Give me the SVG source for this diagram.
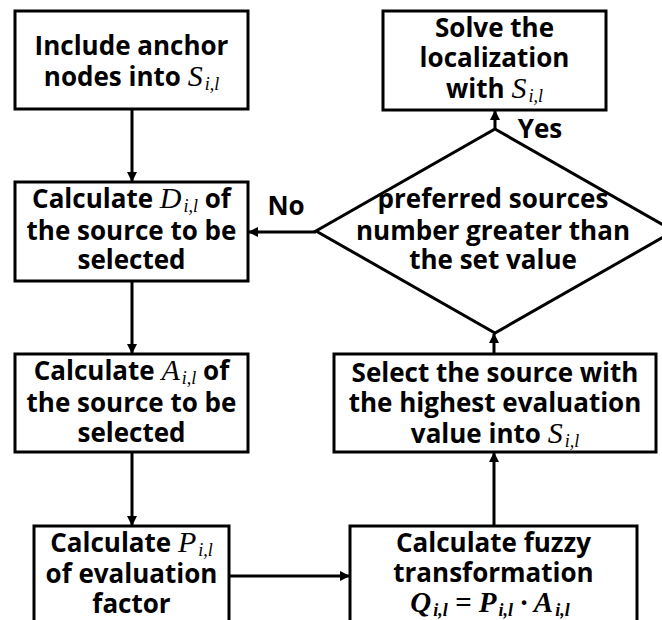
<svg xmlns="http://www.w3.org/2000/svg" width="662" height="620" viewBox="0 0 662 620">
<style>
.box{fill:#fff;stroke:#000;stroke-width:3}
.t{font-family:"Open Sans","Noto Sans",sans-serif;font-weight:700;font-size:26px;fill:#000;text-anchor:middle}
.m{font-family:"Liberation Serif","DejaVu Serif",serif;font-style:italic;font-weight:400;font-size:30px}
.mb{font-family:"Liberation Serif","DejaVu Serif",serif;font-style:italic;font-weight:700;font-size:29px}
.sub{font-size:18px}
.ln{fill:none;stroke:#000;stroke-width:3}
</style>
<defs>
<marker id="ah" markerUnits="userSpaceOnUse" markerWidth="10" markerHeight="10" refX="9" refY="5" orient="auto">
<path d="M0,0 L10,5 L0,10 z" fill="#000"/>
</marker>
</defs>
<g id="connectors">
<line class="ln" x1="132" y1="109" x2="132" y2="181" marker-end="url(#ah)"/>
<line class="ln" x1="132" y1="281" x2="132" y2="353" marker-end="url(#ah)"/>
<line class="ln" x1="132" y1="452" x2="132" y2="525" marker-end="url(#ah)"/>
<line class="ln" x1="229" y1="576" x2="349" y2="576" marker-end="url(#ah)"/>
<line class="ln" x1="494" y1="526" x2="494" y2="453" marker-end="url(#ah)"/>
<line class="ln" x1="494" y1="354" x2="494" y2="334" marker-end="url(#ah)"/>
<line class="ln" x1="495" y1="129" x2="495" y2="111" marker-end="url(#ah)"/>
<line class="ln" x1="316" y1="232" x2="249" y2="232" marker-end="url(#ah)"/>
<text class="t" x="286" y="215">No</text>
<text class="t" x="540" y="138">Yes</text>
</g>
<g id="n1">
<rect class="box" x="15" y="11" width="233" height="98"/>
<text class="t" x="131.5" y="55">Include anchor</text>
<text class="t" x="131.5" y="86">nodes into <tspan class="m">S</tspan><tspan class="m sub" dx="2" dy="4">i,l</tspan></text>
</g>
<g id="n2">
<rect class="box" x="15" y="182" width="233" height="99"/>
<text class="t" x="131.5" y="208">Calculate <tspan class="m">D</tspan><tspan class="m sub" dx="2" dy="4">i,l</tspan><tspan dy="-4">  of</tspan></text>
<text class="t" x="131.5" y="240">the source to be</text>
<text class="t" x="131.5" y="269">selected</text>
</g>
<g id="n3">
<rect class="box" x="15" y="354" width="233" height="98"/>
<text class="t" x="131.5" y="380">Calculate <tspan class="m">A</tspan><tspan class="m sub" dx="2" dy="4">i,l</tspan><tspan dy="-4"> of</tspan></text>
<text class="t" x="131.5" y="412">the source to be</text>
<text class="t" x="131.5" y="442">selected</text>
</g>
<g id="n4">
<rect class="box" x="34" y="526" width="195" height="120"/>
<text class="t" x="131.5" y="552">Calculate <tspan class="m">P</tspan><tspan class="m sub" dx="2" dy="4">i,l</tspan></text>
<text class="t" x="131.5" y="583">of evaluation</text>
<text class="t" x="131.5" y="613">factor</text>
</g>
<g id="n5">
<rect class="box" x="350" y="526" width="287" height="120"/>
<text class="t" x="493.5" y="552">Calculate fuzzy</text>
<text class="t" x="493.5" y="582">transformation</text>
<text class="t" x="490" y="612"><tspan class="mb">Q</tspan><tspan class="mb sub" dx="2" dy="4">i,l</tspan><tspan class="mb" dy="-4"> = P</tspan><tspan class="mb sub" dx="2" dy="4">i,l</tspan><tspan class="mb" dy="-4"> · A</tspan><tspan class="mb sub" dx="2" dy="4">i,l</tspan></text>
</g>
<g id="n6">
<rect class="box" x="334" y="354" width="322" height="98"/>
<text class="t" x="495" y="382">Select the source with</text>
<text class="t" x="495" y="412">the highest evaluation</text>
<text class="t" x="495" y="443">value into <tspan class="m">S</tspan><tspan class="m sub" dx="2" dy="4">i,l</tspan></text>
</g>
<g id="n7">
<polygon class="box" points="495,129 674,231 495,333 316,231"/>
<text class="t" x="493" y="208">preferred sources</text>
<text class="t" x="493" y="240">number greater than</text>
<text class="t" x="493" y="269">the set value</text>
</g>
<g id="n8">
<rect class="box" x="383" y="11" width="223" height="99"/>
<text class="t" x="494.5" y="37">Solve the</text>
<text class="t" x="494.5" y="67">localization</text>
<text class="t" x="494.5" y="98">with <tspan class="m">S</tspan><tspan class="m sub" dx="2" dy="4">i,l</tspan></text>
</g>
</svg>
